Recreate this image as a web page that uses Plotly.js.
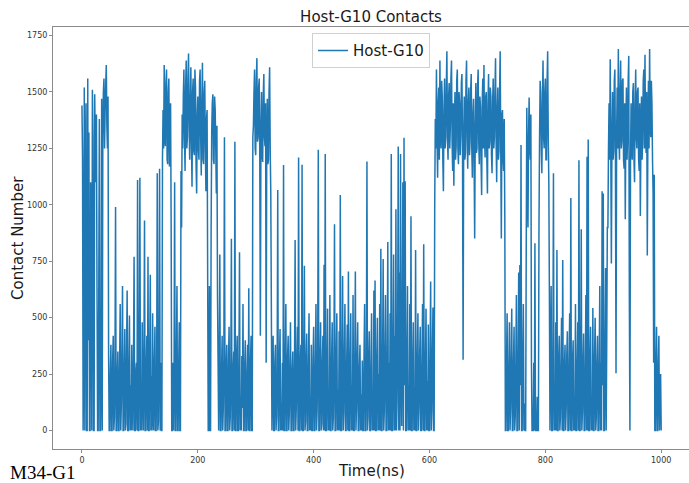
<!DOCTYPE html>
<html>
<head>
<meta charset="utf-8">
<script src="https://cdn.plot.ly/plotly-3.0.1.min.js"></script>
<style>
  html, body { margin: 0; padding: 0; background: #ffffff; overflow: hidden; }
  #chart { width: 689px; height: 483px; }
</style>
</head>
<body>
<div id="chart"></div>
<script>
// Contact number, one value per ns.
// Each array starts at the time (ns) given in segmentStart.
const timeStep = 1;
const segmentStart = [0, 236, 328, 610, 732, 808];

const contacts_0_234 = [
  1440,1210,0,300,1520,0,1180,1450,0,0,1560,400,1320,0,0,1100,980,0,1510,1300,
  0,0,1490,1250,1100,1400,620,0,0,600,1380,0,0,250,1470,0,1290,1500,1560,1250,
  1420,1530,1620,1350,1250,1480,330,0,0,260,380,0,0,310,420,0,60,280,990,0,
  0,240,350,0,0,300,560,0,120,330,640,0,0,270,450,0,30,340,620,0,
  0,290,510,0,200,0,380,120,0,320,770,0,0,260,300,0,1110,0,0,380,
  1120,0,150,0,480,200,0,310,930,0,0,280,420,0,770,0,0,350,690,0,
  240,0,520,60,0,300,460,0,0,270,1140,0,40,330,1160,0,300,0,0,1200,
  1420,1250,1620,1300,1260,1540,1600,1200,1180,1500,1560,1170,1300,1450,900,0,0,300,0,250,
  1100,0,0,300,640,0,0,280,480,0,0,1150,900,1400,1250,1480,1600,1300,1150,1520,
  1640,1250,1300,1560,1670,1350,1200,1450,1610,1280,1080,1500,1560,1240,1220,1600,1520,1180,1050,1400,
  1480,1250,1200,1550,1600,1300,1130,1450,1630,1200,1180,1500,1550,1250,1060,1380,1420,700,0,0,
  640,0,0,900,1320,1450,1490,1200,1180,1480,1420,1250,1050,1350,600
];

const contacts_236_326 = [
  0,300,780,0,0,260,420,0,100,320,1300,0,0,280,380,0,0,310,460,0,
  60,290,850,0,0,270,350,0,1280,0,0,330,420,0,0,300,790,0,150,0,
  330,100,560,0,0,290,400,0,0,260,380,0,630,0,0,310,420,0,0,1300,
  1350,1500,1600,1250,1220,1550,1650,1280,1300,1520,1560,1200,420,1350,1500,1220,1190,1480,1580,1300,
  1260,1450,300,1250,1470,1180,1200,1500,1610,1250,1050
];

const contacts_328_609 = [
  0,280,420,0,0,300,380,0,60,260,1066,0,0,310,450,0,120,0,300,0,
  1177,0,0,290,560,0,0,330,420,0,80,300,480,0,0,270,350,0,0,320,
  844,0,100,310,460,0,1210,0,0,300,380,0,1178,0,0,280,730,0,40,320,
  430,0,0,300,520,0,150,0,380,0,0,320,460,0,0,290,560,0,90,330,
  1244,0,0,300,480,0,30,310,420,0,735,0,1225,0,0,280,540,0,130,0,
  600,0,0,320,480,0,60,300,914,0,0,330,520,0,180,0,440,0,1044,0,
  0,300,685,0,80,340,560,0,0,290,470,0,705,0,0,310,520,0,200,0,
  600,0,0,300,705,0,100,320,480,0,0,280,380,0,160,0,310,0,0,330,
  560,0,0,300,1192,0,60,310,440,0,0,290,520,0,170,0,620,0,665,0,
  0,320,500,0,250,0,560,0,805,0,0,300,760,0,90,340,600,0,0,310,
  835,0,300,0,520,0,1225,0,0,350,780,0,420,0,980,0,120,400,1258,0,
  700,0,1225,300,20,450,1100,0,1297,200,1105,0,0,320,640,0,200,0,560,0,
  949,0,0,300,480,0,160,0,800,0,0,310,520,0,100,330,460,0,0,290,
  560,0,825,0,0,300,540,0,220,0,470,0,0,320,660,0,90,350,545,0,
  0,1000
];

const contacts_610_731 = [
  1380,1250,1600,1300,1120,1450,1520,1200,1640,1300,1250,1550,1480,1200,1060,1420,1560,1250,1300,1520,
  1680,1300,1200,1480,1540,1250,1350,1560,1640,1280,1150,1450,1085,1350,1500,1200,1260,1550,1600,1250,
  1180,1500,1450,1220,1310,1540,1580,1250,313,1300,1480,1200,1230,1550,1640,1300,1160,1450,1520,1220,
  1280,1500,1580,1250,1120,1400,1470,1200,851,1350,1540,1230,1250,1520,1600,1280,1180,1480,1430,1200,
  1043,1450,1560,1250,1620,1300,1210,1480,1500,1200,1050,1450,1580,1250,1280,1520,1480,1220,1140,1450,
  1560,1250,1300,1500,1650,1280,1100,1420,1520,1200,1240,1500,1680,1250,851,1400,1420,1200,1150,1380,
  950,0
];

const contacts_732_807 = [
  0,300,520,0,0,280,480,0,100,320,540,0,0,300,460,0,60,290,600,0,
  0,330,700,0,733,200,1265,0,0,310,560,0,120,0,0,800,1430,1100,900,1300,
  1475,1250,1200,1400,300,0,0,0,300,0,830,0,0,0,150,0,0,900,1300,1550,
  1500,1250,1140,1450,1640,1300,1250,1500,1560,1200,1200,1550,1680,1300,1100,600
];

const contacts_808_1000 = [
  0,300,640,0,0,280,1140,0,200,0,480,0,800,0,0,320,420,0,60,300,
  500,0,756,0,0,290,380,0,100,330,440,0,0,300,520,0,1030,0,0,310,
  400,0,150,0,560,0,0,300,480,0,1198,0,0,320,892,0,80,300,430,0,
  0,280,600,0,1213,0,1289,0,0,310,460,0,120,0,543,0,0,330,500,0,
  60,300,420,0,0,320,640,0,300,0,1060,200,1050,0,0,350,720,0,400,900,
  900,1250,1450,1200,1645,1250,740,1300,1500,1200,1240,1550,1600,1200,254,1300,1520,1250,1690,1300,
  1200,1500,1640,1250,1280,1550,1560,1200,1160,1450,936,1350,1520,1200,1300,1550,1660,600,0,1200,
  1450,1250,1200,1500,1540,1200,1100,1450,1600,1300,1250,1500,1520,1200,1150,1450,950,1300,1480,1200,
  1280,1550,1600,1250,1665,1300,1230,1500,775,1300,1550,1250,1690,1350,1300,1550,1450,1200,1050,300,
  1133,0,0,280,460,0,0,300,420,0,120,250,0
];

const segments = [contacts_0_234, contacts_236_326, contacts_328_609,
                  contacts_610_731, contacts_732_807, contacts_808_1000];

const xTickVals = [0, 200, 400, 600, 800, 1000];
const yTickVals = [0, 250, 500, 750, 1000, 1250, 1500, 1750];

const timeNs = [];
const contactNum = [];
segments.forEach((seg, k) => {
  seg.forEach((v, i) => {
    timeNs.push(segmentStart[k] + i * timeStep);
    contactNum.push(v);
  });
});

const axisGray = '#8a8a8a';
const fontFam = 'DejaVu Sans, sans-serif';
const W = 689, H = 483, L = 53, T = 27, B = 34;
const plotW = W - L, plotH = H - T - B;

const trace = {
  x: timeNs,
  y: contactNum,
  type: 'scatter',
  mode: 'lines',
  name: 'Host-G10',
  line: { color: '#1f77b4', width: 1.5, simplify: false }
};

const layout = {
  width: W,
  height: H,
  paper_bgcolor: '#ffffff',
  plot_bgcolor: '#ffffff',
  margin: { l: L, r: 0, t: T, b: B, pad: 0 },
  title: {
    text: 'Host-G10 Contacts',
    font: { family: fontFam, size: 15, color: '#1a1a1a' },
    x: 0.5, xref: 'paper', xanchor: 'center',
    y: 1 - 17 / H, yref: 'container', yanchor: 'middle'
  },
  showlegend: true,
  legend: {
    x: 0.5, xanchor: 'center', y: 0.985, yanchor: 'top',
    bgcolor: 'rgba(255,255,255,0.85)',
    bordercolor: '#d0d0d0', borderwidth: 1,
    font: { family: fontFam, size: 15, color: '#1a1a1a' },
    tracegroupgap: 0
  },
  xaxis: {
    range: [-50, 1048],
    tickvals: xTickVals,
    ticktext: xTickVals.map(String),
    showgrid: false, zeroline: false,
    showline: true, linecolor: axisGray, linewidth: 1, mirror: true,
    ticks: 'outside', ticklen: 3, tickcolor: axisGray, tickwidth: 1,
    tickfont: { family: fontFam, size: 8, color: '#333333' },
    automargin: false
  },
  yaxis: {
    range: [-82, 1788],
    tickvals: yTickVals,
    ticktext: yTickVals.map(String),
    showgrid: false, zeroline: false,
    showline: true, linecolor: axisGray, linewidth: 1, mirror: false,
    ticks: 'outside', ticklen: 3, tickcolor: axisGray, tickwidth: 1,
    tickfont: { family: fontFam, size: 8, color: '#333333' },
    automargin: false
  },
  annotations: [
    {
      text: 'Time(ns)',
      xref: 'paper', yref: 'paper',
      x: 0.5, xanchor: 'center',
      y: -(471 - (T + plotH)) / plotH, yanchor: 'middle',
      showarrow: false,
      font: { family: fontFam, size: 15, color: '#1a1a1a' }
    },
    {
      text: 'Contact Number',
      xref: 'paper', yref: 'paper',
      x: (18 - L) / plotW, xanchor: 'center',
      y: 0.5, yanchor: 'middle',
      textangle: -90,
      showarrow: false,
      font: { family: fontFam, size: 15, color: '#1a1a1a' }
    },
    {
      text: 'M34-G1',
      xref: 'paper', yref: 'paper',
      x: (8 - L) / plotW, xanchor: 'left',
      y: -(472 - (T + plotH)) / plotH, yanchor: 'middle',
      showarrow: false,
      font: { family: 'Liberation Serif, Times New Roman, serif', size: 19, color: '#000000' }
    }
  ]
};

Plotly.newPlot('chart', [trace], layout, { displayModeBar: false, staticPlot: true });
</script>
</body>
</html>
